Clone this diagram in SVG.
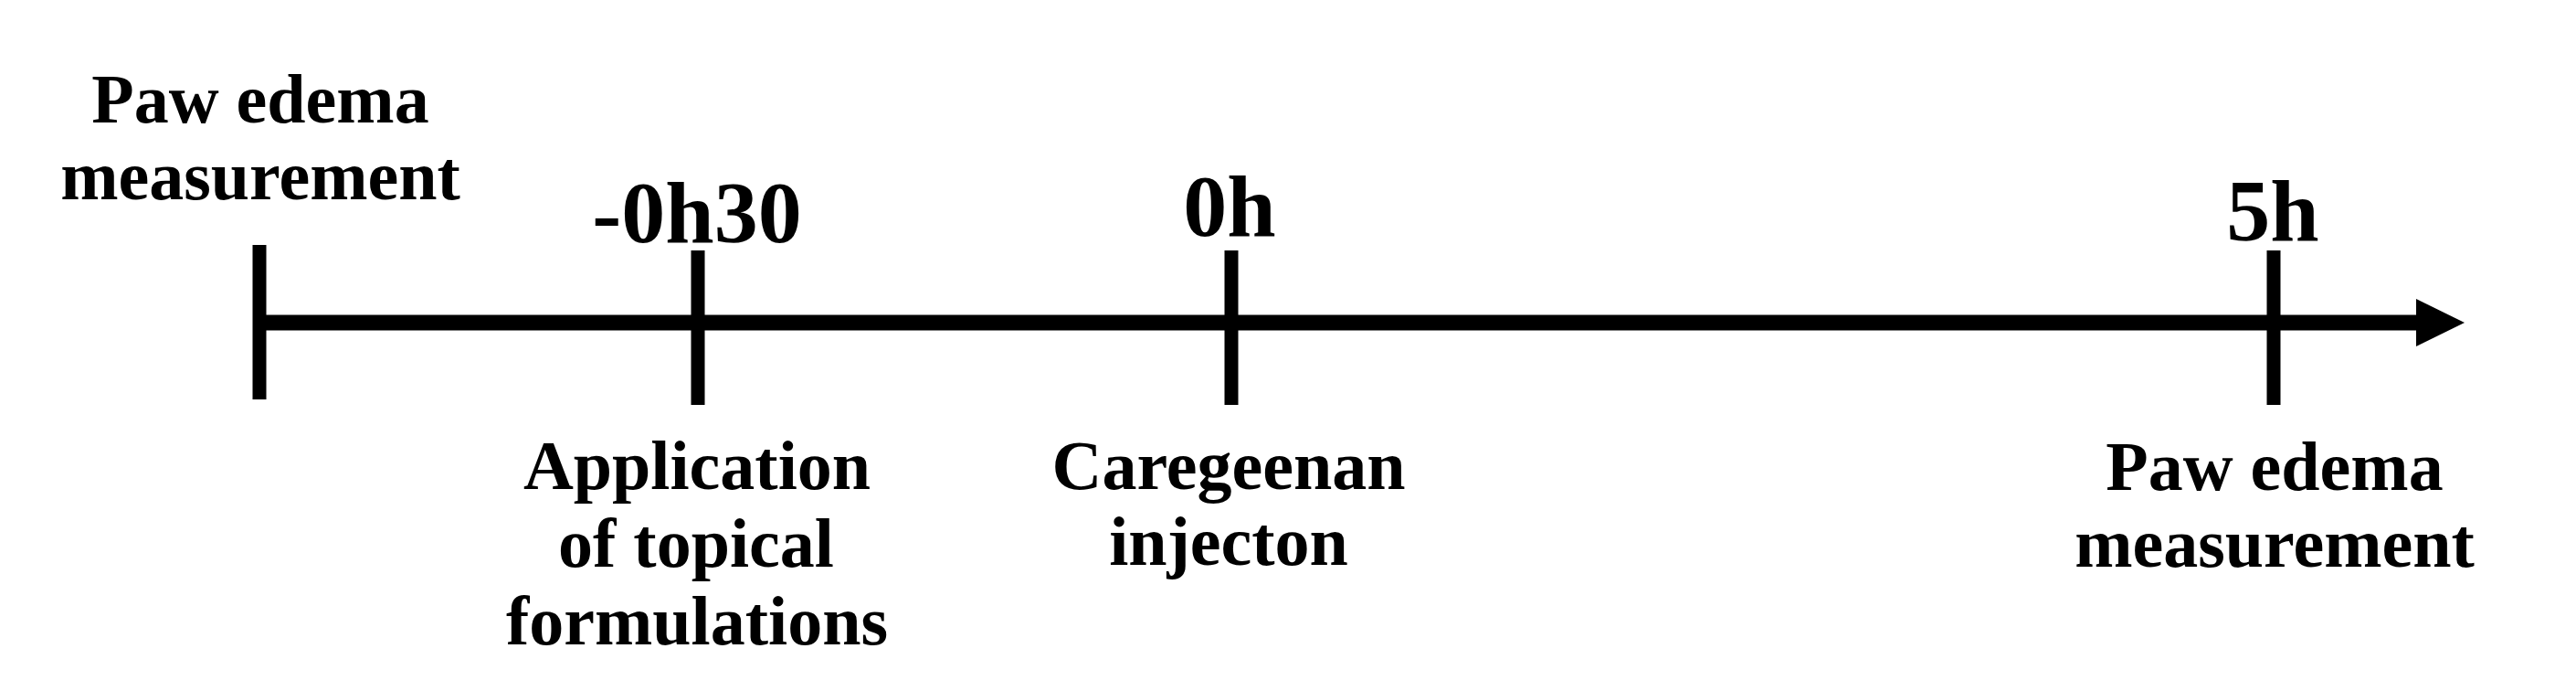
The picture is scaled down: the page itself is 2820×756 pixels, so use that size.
<svg xmlns="http://www.w3.org/2000/svg" width="2820" height="756" viewBox="0 0 2820 756">
  <style>
    .lbl { font-family: "Liberation Serif", "Times New Roman", serif; font-weight: bold; font-size: 76px; fill: #000; text-anchor: middle; }
    .time { font-family: "Liberation Serif", "Times New Roman", serif; font-weight: bold; font-size: 96px; fill: #000; text-anchor: middle; }
    .tick { stroke: #000; stroke-width: 15; fill: none; }
    .axis { stroke: #000; stroke-width: 17; fill: none; }
  </style>
  <defs>
    <marker id="arrow" markerUnits="userSpaceOnUse" markerWidth="54" markerHeight="52" refX="0" refY="26" orient="auto">
      <polygon points="0,0 53,26 0,52" fill="#000"/>
    </marker>
  </defs>
  <rect width="2820" height="756" fill="#fff"/>
  <g id="connectors">
    <line class="axis" x1="284" y1="353" x2="2645" y2="353" marker-end="url(#arrow)"/>
  </g>
  <g id="node-start">
    <line class="tick" x1="284" y1="268" x2="284" y2="437"/>
    <text class="lbl" x="285" y="134">Paw edema</text>
    <text class="lbl" x="285" y="218">measurement</text>
  </g>
  <g id="node-minus30">
    <line class="tick" x1="764" y1="274" x2="764" y2="443"/>
    <text class="time" x="763" y="265">-0h30</text>
    <text class="lbl" x="763" y="535">Application</text>
    <text class="lbl" x="762" y="620">of topical</text>
    <text class="lbl" x="763" y="705">formulations</text>
  </g>
  <g id="node-0h">
    <line class="tick" x1="1348" y1="274" x2="1348" y2="443"/>
    <text class="time" x="1346" y="258">0h</text>
    <text class="lbl" x="1345" y="535">Caregeenan</text>
    <text class="lbl" x="1345" y="618">injecton</text>
  </g>
  <g id="node-5h">
    <line class="tick" x1="2489" y1="274" x2="2489" y2="443"/>
    <text class="time" x="2488" y="263">5h</text>
    <text class="lbl" x="2490" y="536">Paw edema</text>
    <text class="lbl" x="2490" y="620">measurement</text>
  </g>
</svg>
